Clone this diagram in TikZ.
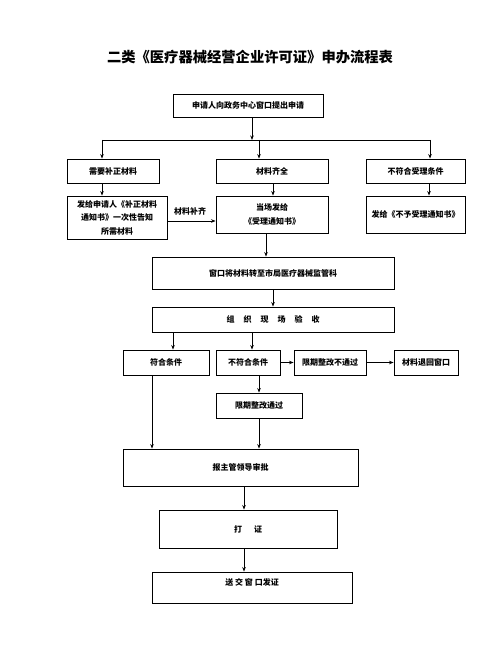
\documentclass[tikz,border=0pt]{standalone}
\usepackage{fontspec}
\setmainfont{Noto Sans CJK SC}
\usetikzlibrary{arrows.meta}
\begin{document}
\begin{tikzpicture}[x=1pt,y=-1pt,
  box/.style={draw,line width=0.9pt,inner sep=0pt,align=center,font=\fontsize{8}{13.5}\selectfont\bfseries},
  arr/.style={line width=0.8pt,-{Stealth[length=4.5pt,width=3.5pt]}},
  ln/.style={line width=0.8pt}]
\useasboundingbox[fill=white] (0,0) rectangle (500,652);
\node[font=\fontsize{14.3}{16}\selectfont\bfseries] (title) at (250,57) {二类《医疗器械经营企业许可证》申办流程表};
\node[box,minimum width=150pt,minimum height=23pt] (b1) at (248,105.5) {申请人向政务中心窗口提出申请};
\node[box,minimum width=92pt,minimum height=24pt] (r2a) at (113,171) {需要补正材料};
\node[box,minimum width=112pt,minimum height=24pt] (r2b) at (272,171) {材料齐全};
\node[box,minimum width=99pt,minimum height=24pt] (r2c) at (415.5,171) {不符合受理条件};
\node[box,minimum width=100pt,minimum height=43pt] (r3a) at (117,217.5) {发给申请人《补正材料\\通知书》一次性告知\\所需材料};
\node[box,minimum width=112pt,minimum height=37pt] (r3b) at (272,214.5) {当场发给\\《受理通知书》};
\node[box,minimum width=99pt,minimum height=37pt] (r3c) at (415.5,214.5) {发给《不予受理通知书》};
\node[font=\fontsize{8}{10}\selectfont\bfseries] (lbl) at (190,211) {材料补齐};
\node[box,minimum width=242pt,minimum height=32pt] (b4) at (273,273) {窗口将材料转至市局医疗器械监管科};
\node[box,minimum width=242pt,minimum height=25pt] (b5) at (273,319.5) {组\hspace{9pt}织\hspace{9pt}现\hspace{9pt}场\hspace{9pt}验\hspace{9pt}收};
\node[box,minimum width=86pt,minimum height=25pt] (c1) at (166,362.5) {符合条件};
\node[box,minimum width=64pt,minimum height=25pt] (c2) at (248,362.5) {不符合条件};
\node[box,minimum width=72pt,minimum height=25pt] (c3) at (330,362.5) {限期整改不通过};
\node[box,minimum width=64pt,minimum height=25pt] (c4) at (426,362.5) {材料退回窗口};
\node[box,minimum width=86pt,minimum height=25pt] (d) at (259,405.5) {限期整改通过};
\node[box,minimum width=235pt,minimum height=37pt] (e) at (240.5,467.5) {报主管领导审批};
\node[box,minimum width=178pt,minimum height=38pt] (f) at (248,529) {打\hspace{12pt}证};
\node[box,minimum width=200pt,minimum height=31pt,align=left,text height=6pt,text depth=11pt] (g) at (252,587.5) {送 交 窗 口发证};
% connector coordinates
\coordinate (sp) at (252,140);
\coordinate (hl) at (102,140);
\coordinate (hm) at (259,140);
\coordinate (hr) at (430,140);
\coordinate (xb) at (273,0);
\coordinate (xc) at (429,0);
\coordinate (ly) at (0,221);
\coordinate (x4) at (266,0);
\coordinate (x5a) at (173,0);
\coordinate (x5b) at (252,0);
\coordinate (xd) at (259,0);
\coordinate (xe1) at (152,0);
\coordinate (xf) at (244,0);
\draw[arr] (sp |- b1.south) -- (sp);
\draw[ln] (hl) -- (hr);
\draw[arr] (hl) -- (hl |- r2a.north);
\draw[arr] (hm) -- (hm |- r2b.north);
\draw[arr] (hr) -- (hr |- r2c.north);
\draw[arr] (hl |- r2a.south) -- (hl |- r3a.north);
\draw[arr] (xb |- r2b.south) -- (xb |- r3b.north);
\draw[arr] (xc |- r2c.south) -- (xc |- r3c.north);
\draw[arr] (r3a.east |- ly) -- (r3b.west |- ly);
\draw[arr] (x4 |- r3b.south) -- (x4 |- b4.north);
\draw[arr] (xb |- b4.south) -- (xb |- b5.north);
\draw[arr] (x5a |- b5.south) -- (x5a |- c1.north);
\draw[arr] (x5b |- b5.south) -- (x5b |- c2.north);
\draw[arr] (c2.east) -- (c3.west);
\draw[arr] (c3.east) -- (c4.west);
\draw[arr] (xd |- c2.south) -- (xd |- d.north);
\draw[arr] (xe1 |- c1.south) -- (xe1 |- e.north);
\draw[arr] (xd |- d.south) -- (xd |- e.north);
\draw[arr] (xf |- e.south) -- (xf |- f.north);
\draw[arr] (xf |- f.south) -- (xf |- g.north);
\end{tikzpicture}
\end{document}
